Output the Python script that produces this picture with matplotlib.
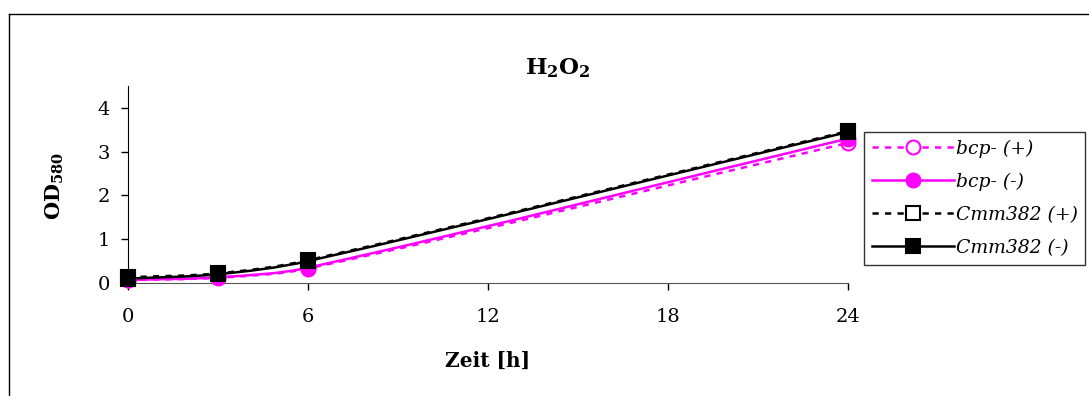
import numpy as np
import matplotlib
matplotlib.use('Agg')
import matplotlib.pyplot as plt
from matplotlib.path import Path
from matplotlib.patches import PathPatch
from matplotlib.lines import Line2D

# --- Daten ---
zeit = [0, 3, 6, 24]
bcp_plus = [0.07, 0.12, 0.33, 3.20]
bcp_minus = [0.07, 0.13, 0.35, 3.30]
cmm_plus = [0.13, 0.22, 0.52, 3.47]
cmm_minus = [0.10, 0.20, 0.50, 3.45]

labels = ['bcp- (+)', 'bcp- (-)', 'Cmm382 (+)', 'Cmm382 (-)']
farben = ['#FF00FF', '#FF00FF', 'black', 'black']
stile = [(0, (2.5, 2.5)), '-', (0, (2.5, 2.5)), '-']
marker = ['o', 'o', 's', 's']
fuellung = ['white', '#FF00FF', 'white', 'black']
serien = [bcp_plus, bcp_minus, cmm_plus, cmm_minus]

plt.rcParams['font.family'] = 'DejaVu Serif'
plt.rcParams['mathtext.fontset'] = 'dejavuserif'


def glatt_pfad(x, y):
    # geglaettete Linie (Hermite-Bezier durch die Messpunkte)
    x = np.asarray(x, float); y = np.asarray(y, float)
    n = len(x)
    m = np.empty(n)
    m[0] = (y[1] - y[0]) / (x[1] - x[0])
    m[-1] = (y[-1] - y[-2]) / (x[-1] - x[-2])
    for i in range(1, n - 1):
        m[i] = (y[i + 1] - y[i - 1]) / (x[i + 1] - x[i - 1])
    verts = [(x[0], y[0])]
    codes = [Path.MOVETO]
    for i in range(n - 1):
        d = (x[i + 1] - x[i]) / 3
        verts += [(x[i] + d, y[i] + m[i] * d),
                  (x[i + 1] - d, y[i + 1] - m[i + 1] * d),
                  (x[i + 1], y[i + 1])]
        codes += [Path.CURVE4] * 3
    return Path(verts, codes)


fig = plt.figure(figsize=(10.89, 3.96), dpi=100)
ax = fig.add_axes([0.1175, 0.2854, 0.6612, 0.4974])

handles = []
for y, lab, c, ls, m, fc in zip(serien, labels, farben, stile, marker, fuellung):
    ax.add_patch(PathPatch(glatt_pfad(zeit, y), facecolor='none', edgecolor=c,
                           linestyle=ls, linewidth=1.8, zorder=2))
    ax.plot(zeit, y, linestyle='none', marker=m, markersize=10,
            markerfacecolor=fc, markeredgecolor=c, markeredgewidth=1.5,
            zorder=3, clip_on=False)
    handles.append(Line2D([], [], color=c, linestyle=ls, linewidth=1.8,
                          marker=m, markersize=10, markerfacecolor=fc,
                          markeredgecolor=c, markeredgewidth=1.5))

ax.set_xlim(0, 24)
ax.set_ylim(0, 4.5)
ax.set_xticks([0, 6, 12, 18, 24])
ax.set_yticks([0, 1, 2, 3, 4])
ax.spines['top'].set_visible(False)
ax.spines['right'].set_visible(False)
ax.spines['bottom'].set_color('#555555')
ax.tick_params(labelsize=14, length=5, width=1)
ax.tick_params(axis='y', pad=8)
ax.tick_params(axis='x', pad=13)

fig.text(0.4477, 0.09, 'Zeit [h]', fontsize=14.5, fontweight='bold', ha='center', va='center')
fig.text(0.05, 0.53, r'$\mathbf{OD_{580}}$', fontsize=15, rotation=90, ha='center', va='center')
fig.text(0.512, 0.828, r'$\mathbf{H_2O_2}$', fontsize=16.5, ha='center', va='center')

leg = ax.legend(handles, labels, loc='upper left', bbox_to_anchor=(864 / 1089, 264 / 396),
                bbox_transform=fig.transFigure, frameon=True, fancybox=False,
                prop={'style': 'italic', 'size': 13.5}, handlelength=4.4,
                handletextpad=0.1, borderpad=0.4, labelspacing=0.8, borderaxespad=0)
leg.get_frame().set_edgecolor('black')
leg.get_frame().set_linewidth(1)

# Rahmen um das Diagramm
fig.add_artist(Line2D([9 / 1089, 9 / 1089], [0, 1 - 14 / 396], color='black', linewidth=1))
fig.add_artist(Line2D([9 / 1089, 1], [1 - 14 / 396, 1 - 14 / 396], color='black', linewidth=1))

fig.savefig('out.png', dpi=100)
